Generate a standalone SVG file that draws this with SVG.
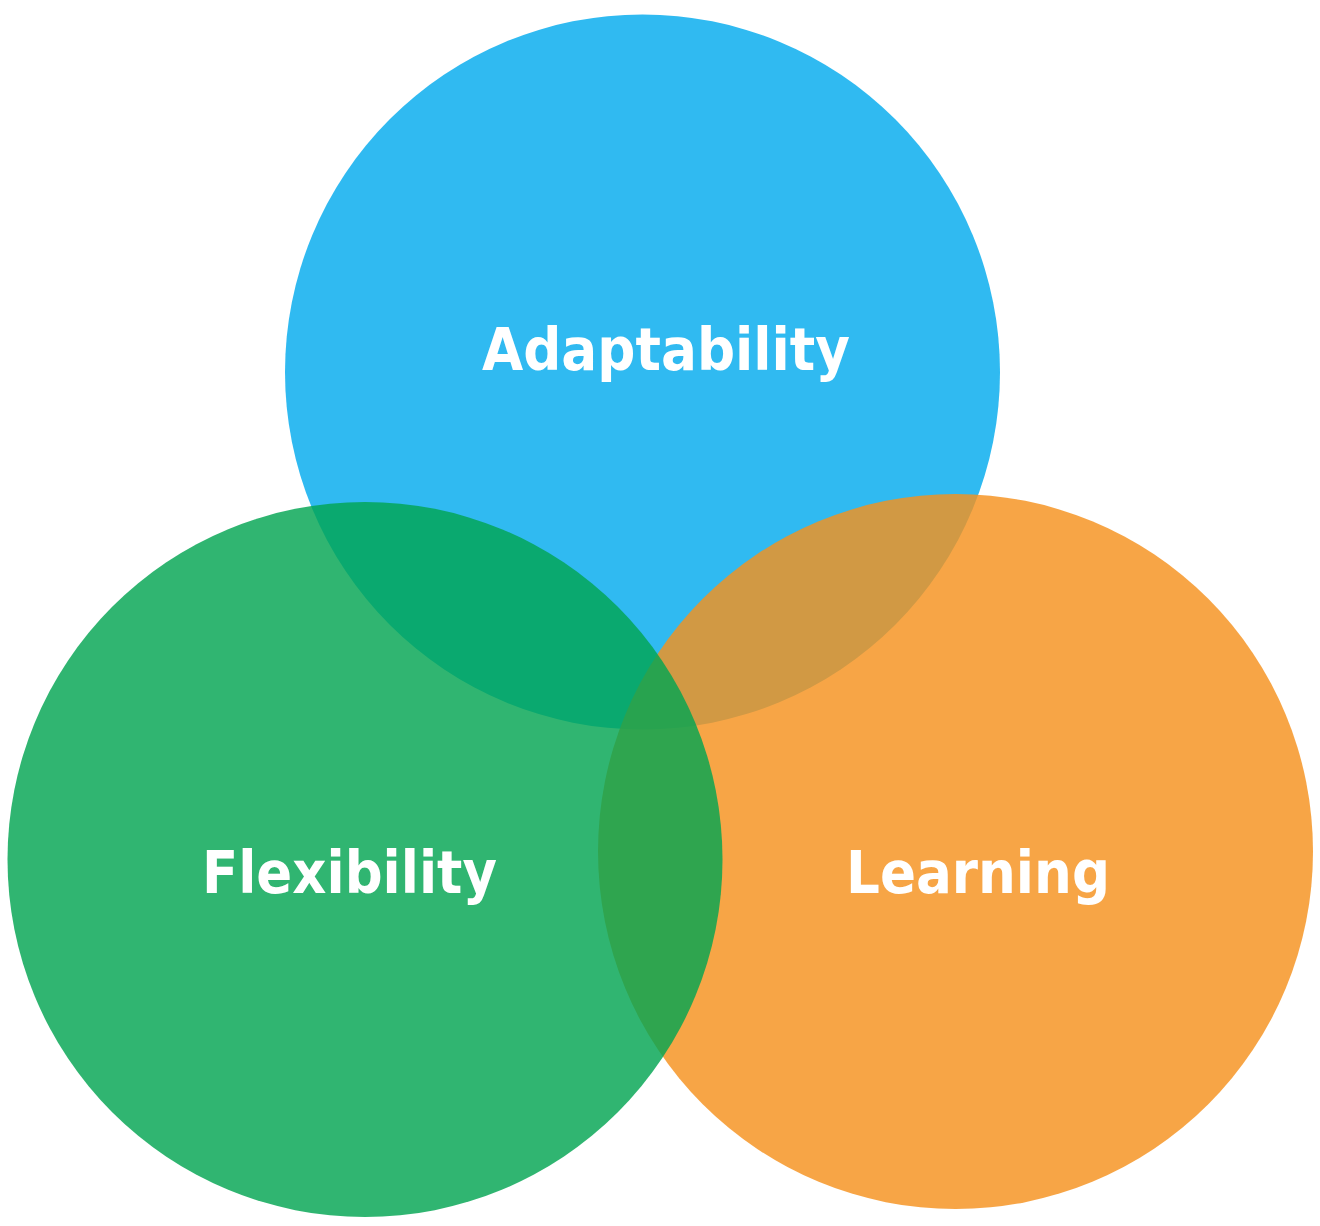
<svg xmlns="http://www.w3.org/2000/svg" width="1320" height="1226" viewBox="0 0 1320 1226">
<style>
.c{fill-opacity:0.82;stroke:none}
.t{font-family:"DejaVu Sans","Liberation Sans",sans-serif;font-weight:bold;font-size:59px;fill:#ffffff;text-anchor:middle}
</style>
<rect width="1320" height="1226" fill="#ffffff"/>
<g id="adaptability">
<circle class="c" cx="642.5" cy="372" r="357.5" fill="#03ABEE"/>
</g>
<g id="learning">
<circle class="c" cx="955.5" cy="851.5" r="357.5" fill="#F5911D"/>
</g>
<g id="flexibility">
<circle class="c" cx="365" cy="859.5" r="357.5" fill="#02A552"/>
</g>
<g id="labels">
<text class="t" x="666" y="370" textLength="368" lengthAdjust="spacingAndGlyphs">Adaptability</text>
<text class="t" x="349.5" y="893" textLength="295" lengthAdjust="spacingAndGlyphs">Flexibility</text>
<text class="t" x="978" y="893" textLength="264" lengthAdjust="spacingAndGlyphs">Learning</text>
</g>
</svg>
